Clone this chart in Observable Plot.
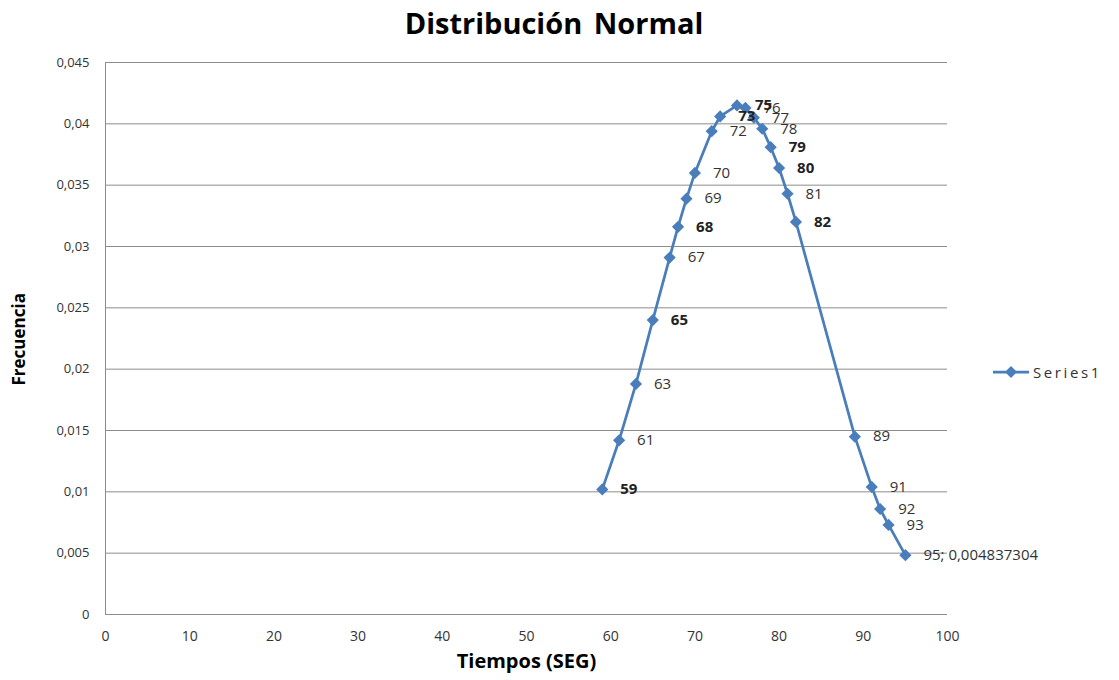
<!DOCTYPE html>
<html><head><meta charset="utf-8">
<script src="https://cdn.jsdelivr.net/npm/d3@7"></script>
<script src="https://cdn.jsdelivr.net/npm/@observablehq/plot@0.6"></script>
<style>
body{margin:0;background:#fff;font-family:"Open Sans",sans-serif;}
#wrap{position:relative;width:1119px;height:680px;overflow:hidden;}
#title{height:45px;line-height:46px;text-align:center;font-weight:bold;font-size:29px;color:#000;padding-right:11px;word-spacing:4px;}
#legend{position:absolute;left:992px;top:362px;display:flex;align-items:center;font-size:15px;letter-spacing:2.6px;color:#333;}
</style></head>
<body><div id="wrap"><div id="title">Distribución Normal</div><div id="chart"></div>
<div id="legend"><svg width="38" height="20"><line x1="1" y1="10" x2="37" y2="10" stroke="#4A7EBB" stroke-width="2.75"/><path d="M19,4 L25,10 L19,16 L13,10 Z" fill="#4A7EBB"/></svg><span style="margin-left:3px">Series1</span></div>
</div>
<script>
const tiempos = [59,61,63,65,67,68,69,70,72,73,75,76,77,78,79,80,81,82,89,91,92,93,95];
const frecuencia = [0.0102,0.0142,0.0188,0.0240,0.0291,0.0316,0.0339,0.0360,0.0394,0.0406,0.0415,0.0413,0.0405,0.0396,0.0381,0.0364,0.0343,0.0320,0.0145,0.0104,0.0086,0.0073,0.004837304];
const etiquetas = ["59","61","63","65","67","68","69","70","72","73","75","76","77","78","79","80","81","82","89","91","92","93","95; 0,004837304"];
const negritas = [59,65,68,73,75,79,80,82];
const xTicks = [0,10,20,30,40,50,60,70,80,90,100];
const yTicks = [0,0.005,0.01,0.015,0.02,0.025,0.03,0.035,0.04,0.045];
const yTickLabels = ["0","0,005","0,01","0,015","0,02","0,025","0,03","0,035","0,04","0,045"];

const data = tiempos.map((t,i)=>({t, f:frecuencia[i], label:etiquetas[i], bold:negritas.includes(t)}));
const blue = "#4A7EBB";
const grid = "#8c8c8c";

const plot = Plot.plot({
  width:1119, height:635,
  marginLeft:105, marginRight:172, marginTop:17, marginBottom:66,
  x:{domain:[0,100]},
  y:{domain:[0,0.045]},
  style:{fontFamily:"Open Sans, sans-serif", fontSize:"13px", color:"#333", background:"#fff"},
  marks:[
    Plot.gridY(yTicks,{stroke:grid, strokeOpacity:1, strokeWidth:1}),
    Plot.ruleX([0],{stroke:grid, strokeWidth:1}),
    Plot.axisY(yTicks,{tickSize:0, tickPadding:16, tickFormat:(d)=>yTickLabels[yTicks.indexOf(d)], label:null, fontSize:13}),
    Plot.axisX(xTicks,{tickSize:0, tickPadding:17, label:null, fontSize:14, style:{letterSpacing:"1px"}}),
    Plot.text(["Frecuencia"],{frameAnchor:"left", rotate:-90, dx:-86, dy:47, fontWeight:"bold", fontSize:17, fill:"#000"}),
    Plot.text(["Tiempos (SEG)"],{frameAnchor:"bottom", dy:53, fontWeight:"bold", fontSize:20, fill:"#000", style:{letterSpacing:"0.4px"}}),
    Plot.line(data,{x:"t", y:"f", stroke:blue, strokeWidth:2.75}),
    Plot.dot(data,{x:"t", y:"f", symbol:"diamond2", r:5.5, fill:blue, stroke:"none"}),
    Plot.text(data,{filter:d=>!d.bold, x:"t", y:"f", text:"label", dx:18, textAnchor:"start", fontSize:15, fill:"#333"}),
    Plot.text(data,{filter:d=>d.bold, x:"t", y:"f", text:"label", dx:18, textAnchor:"start", fontSize:15, fontWeight:"bold", fill:"#222"})
  ]
});
document.getElementById("chart").appendChild(plot);
</script>
</body></html>
